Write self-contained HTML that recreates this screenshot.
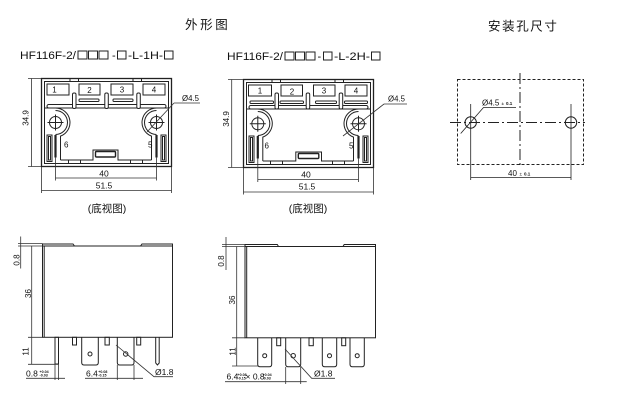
<!DOCTYPE html>
<html><head><meta charset="utf-8">
<style>
html,body{margin:0;padding:0;background:#fff;}
svg{display:block;}
text{font-family:"Liberation Sans","Noto Sans CJK SC",sans-serif;fill:#111;}
.cjk{font-family:"Liberation Sans","Noto Sans CJK SC",sans-serif;}
</style></head><body>
<svg width="636" height="412" viewBox="0 0 636 412" xmlns="http://www.w3.org/2000/svg">
<rect width="636" height="412" fill="#fff"/>

<!-- Titles -->
<text class="cjk" x="185" y="29" font-size="12.5" letter-spacing="2.6">外形图</text>
<text class="cjk" x="488" y="30.5" font-size="12.5" letter-spacing="1.6">安装孔尺寸</text>

<!-- Model labels -->
<g stroke="#222" stroke-width="1" fill="none">
  <rect x="78" y="51" width="9" height="8"/>
  <rect x="88.5" y="51" width="9" height="8"/>
  <rect x="99" y="51" width="9" height="8"/>
  <rect x="117.5" y="51" width="8.5" height="8"/>
  <rect x="164.5" y="51" width="8.5" height="8"/>

  <rect x="285" y="52" width="9" height="8"/>
  <rect x="295.5" y="52" width="9" height="8"/>
  <rect x="306" y="52" width="9" height="8"/>
  <rect x="323.5" y="52" width="8.5" height="8"/>
  <rect x="371.5" y="52" width="8.5" height="8"/>
</g>
<text x="20" y="59" font-size="11" textLength="56" lengthAdjust="spacingAndGlyphs">HF116F-2/</text>
<text x="112" y="59" font-size="11">-</text>
<text x="128" y="59" font-size="11" textLength="35" lengthAdjust="spacingAndGlyphs">-L-1H-</text>
<text x="227" y="60" font-size="11" textLength="56" lengthAdjust="spacingAndGlyphs">HF116F-2/</text>
<text x="317.5" y="60" font-size="11">-</text>
<text x="334" y="60" font-size="11" textLength="36" lengthAdjust="spacingAndGlyphs">-L-2H-</text>

<!-- ===== Bottom view LEFT ===== -->
<g transform="translate(41.5,78.5)" stroke="#222" stroke-width="1" fill="none">
  <rect x="0" y="0" width="130" height="88" stroke-width="1.3"/>
  <rect x="3" y="3" width="124" height="82"/>
  <path d="M28.5,0V3M37,0V3M91.5,0V3M100,0V3M27,81.5V85M39,81.5V85M89,81.5V85M101,81.5V85"/>
  <rect x="5.5" y="5.5" width="22" height="11"/>
  <rect x="37.5" y="5.5" width="21" height="11"/>
  <rect x="69.5" y="5.5" width="22" height="11"/>
  <rect x="101.5" y="5.5" width="22" height="11"/>
  <rect x="37.5" y="20.5" width="20" height="2.5" rx="1"/>
  <rect x="71.5" y="20.5" width="20" height="2.5" rx="1"/>
  <rect x="5.5" y="26" width="119" height="3.5" rx="1.7"/>
  <rect x="31" y="14.5" width="3.5" height="15.5" rx="1.5" fill="#fff"/>
  <rect x="63.3" y="14.5" width="3.5" height="15.5" rx="1.5" fill="#fff"/>
  <rect x="95.3" y="14.5" width="3.5" height="15.5" rx="1.5" fill="#fff"/>
  <path d="M3,29.5H14A14.5,14.5 0 0 1 19,57.6L19,81.5"/>
  <path d="M14,32A12,12 0 0 1 14,56"/>
  <path d="M127,29.5H115A14.5,14.5 0 0 0 110,57.6L110,81.5"/>
  <path d="M115,32A12,12 0 0 0 115,56"/>
  <path d="M19,81.5H51.5V71.5H76.5V81.5H110"/>
  <rect x="54" y="73" width="20" height="5.5" rx="1" stroke-width="1.4"/>
  <circle cx="14" cy="44" r="6"/>
  <path d="M6,44H22M14,36V52"/>
  <circle cx="115" cy="44" r="6"/>
  <path d="M107,44H123M115,36V52"/>
  <rect x="5.5" y="56.5" width="5" height="26.5"/>
  <rect x="7" y="58" width="2" height="23.5"/>
  <rect x="119.5" y="56.5" width="5" height="26.5"/>
  <rect x="121" y="58" width="2" height="23.5"/>
  <path d="M14,56.5V79M115,56.5V79" stroke-width="2.2"/>
</g>
<g font-size="8">
  <text x="54.5" y="92.5" text-anchor="middle">1</text>
  <text x="89.5" y="93" text-anchor="middle">2</text>
  <text x="122" y="92.5" text-anchor="middle">3</text>
  <text x="154" y="92.5" text-anchor="middle">4</text>
  <text x="64" y="147.5">6</text>
  <text x="148" y="147.5">5</text>
</g>
<g stroke="#333" stroke-width="0.8" fill="none">
  <path d="M31.5,78.5V166.5M28,78.5H41M28,166.5H41"/>
  <path d="M55.5,157V180.5M156.5,157V180.5M55.5,178H156.5"/>
  <path d="M41.5,167V193M171.5,167V193M41.5,190.5H171.5"/>
  <path d="M174,103H200M174,103L147,132"/>
</g>
<text x="28.5" y="118" font-size="8" text-anchor="middle" transform="rotate(-90 28.5 118)">34.9</text>
<text x="104" y="176.3" font-size="8.5" text-anchor="middle">40</text>
<text x="104" y="188.3" font-size="8.5" text-anchor="middle">51.5</text>
<text x="182" y="101" font-size="7.8">Ø4.5</text>
<text class="cjk" x="107" y="212" font-size="10.5" text-anchor="middle">(底视图)</text>

<!-- ===== Bottom view MIDDLE ===== -->
<g transform="translate(243.5,79.5)" stroke="#222" stroke-width="1" fill="none">
  <rect x="0" y="0" width="130" height="88" stroke-width="1.3"/>
  <rect x="3" y="3" width="124" height="82"/>
  <path d="M28.5,0V3M37,0V3M91.5,0V3M100,0V3M27,81.5V85M39,81.5V85M89,81.5V85M101,81.5V85"/>
  <rect x="5" y="5.5" width="23" height="11"/>
  <rect x="37.5" y="5.5" width="21.5" height="11"/>
  <rect x="70" y="5.5" width="21.5" height="11"/>
  <rect x="101.5" y="5.5" width="22" height="11"/>
  <rect x="6.5" y="21.5" width="23.5" height="2.5" rx="1"/>
  <rect x="36.5" y="21.5" width="23.5" height="2.5" rx="1"/>
  <rect x="72" y="21.5" width="21" height="2.5" rx="1"/>
  <rect x="101" y="21.5" width="23" height="2.5" rx="1"/>
  <rect x="5.5" y="26" width="119" height="3.5" rx="1.7"/>
  <rect x="31.5" y="13.5" width="3.5" height="16" rx="1.5" fill="#fff"/>
  <rect x="62.7" y="13.5" width="3.5" height="16" rx="1.5" fill="#fff"/>
  <rect x="95.7" y="13.5" width="3.5" height="16" rx="1.5" fill="#fff"/>
  <path d="M3,29.5H14.3A14.5,14.5 0 0 1 19.3,57.6L19.3,81.5"/>
  <path d="M14.3,32A12,12 0 0 1 14.3,56"/>
  <path d="M127,29.5H115A14.5,14.5 0 0 0 110,57.6L110,81.5"/>
  <path d="M115,32A12,12 0 0 0 115,56"/>
  <path d="M19.3,81.5H52.3V72.5H78V81.5H110"/>
  <rect x="54.8" y="74" width="20.5" height="5" rx="1" stroke-width="1.4"/>
  <circle cx="14.3" cy="44.3" r="6"/>
  <path d="M6.3,44.3H22.3M14.3,36.3V52.3"/>
  <circle cx="115" cy="44.3" r="6"/>
  <path d="M107,44.3H123M115,36.3V52.3"/>
  <rect x="5.5" y="56.5" width="5" height="26.5"/>
  <rect x="7" y="58" width="2" height="23.5"/>
  <rect x="119.5" y="56.5" width="5" height="26.5"/>
  <rect x="121" y="58" width="2" height="23.5"/>
  <path d="M14.3,56.5V79M115,56.5V79" stroke-width="2.2"/>
</g>
<g font-size="8">
  <text x="260" y="93.5" text-anchor="middle">1</text>
  <text x="292" y="94.5" text-anchor="middle">2</text>
  <text x="324" y="93.5" text-anchor="middle">3</text>
  <text x="356" y="93.5" text-anchor="middle">4</text>
  <text x="264.5" y="148.5">6</text>
  <text x="349" y="148.5">5</text>
</g>
<g stroke="#333" stroke-width="0.8" fill="none">
  <path d="M231.7,79.5V167.5M228,79.5H243M228,167.5H243"/>
  <path d="M257.8,158V182M358.5,158V182M257.8,179.5H358.5"/>
  <path d="M243.5,168V194.5M373.5,168V194.5M243.5,192H373.5"/>
  <path d="M384,104H407M384,104L343,136"/>
</g>
<text x="229" y="119" font-size="8" text-anchor="middle" transform="rotate(-90 229 119)">34.9</text>
<text x="306" y="177.5" font-size="8.5" text-anchor="middle">40</text>
<text x="307" y="189.5" font-size="8.5" text-anchor="middle">51.5</text>
<text x="388" y="101.5" font-size="7.8">Ø4.5</text>
<text class="cjk" x="308" y="212" font-size="10.5" text-anchor="middle">(底视图)</text>

<!-- ===== Mounting holes RIGHT ===== -->
<g stroke="#222" stroke-width="1" fill="none">
  <rect x="457.5" y="79.5" width="126" height="85" stroke-dasharray="3,2"/>
  <path d="M520,73V166" stroke-dasharray="11,3,2,3"/>
  <path d="M450,122.5H585" stroke-dasharray="11,3,2,3"/>
  <circle cx="470.7" cy="122.5" r="5.7"/>
  <circle cx="571" cy="122.5" r="5.7"/>
  <path d="M470.7,104V180M571,104V180" stroke-width="0.8"/>
  <path d="M460.7,133.5L483.5,107.5H516" stroke-width="0.8"/>
  <path d="M470.7,177.5H571" stroke-width="0.8"/>
</g>
<text x="482" y="105.5" font-size="8">Ø4.5</text>
<text x="501.5" y="105" font-size="4.5">±</text>
<text x="506" y="105" font-size="4.5" font-weight="bold">0.1</text>
<text x="508" y="176" font-size="8">40</text>
<text x="519.5" y="175.5" font-size="4.5">±</text>
<text x="524" y="175.5" font-size="4.5" font-weight="bold">0.1</text>

<!-- ===== Side view LEFT ===== -->
<g stroke="#222" stroke-width="1" fill="none">
  <rect x="42.5" y="246" width="130" height="91.3"/>
  <path d="M44.2,246V337.3"/>
  <path d="M42.5,246V244H73L74.5,246M140.5,246L142,244H172.5V246"/>
  <rect x="55" y="337.3" width="3.5" height="26.7"/>
  <rect x="72.5" y="337.3" width="4" height="7.7"/>
  <path d="M81.7,337.3V362.5Q81.7,365 84.2,365H95.8Q98.3,365 98.3,362.5V337.3"/>
  <circle cx="90" cy="354" r="2"/>
  <rect x="105" y="337.3" width="4.3" height="7.7"/>
  <path d="M117.3,337.3V362.5Q117.3,365 119.8,365H131.5Q134,365 134,362.5V337.3"/>
  <circle cx="125.7" cy="354" r="2.2"/>
  <rect x="136.7" y="337.3" width="4" height="7.7"/>
  <path d="M155.7,337.3V363L157.4,365L159.2,363V337.3"/>
</g>
<g stroke="#333" stroke-width="0.8" fill="none">
  <path d="M18,243.5H42.5M18,246H42.5M20.7,236.5V268.5"/>
  <path d="M31.7,246V364.3M28,337.3H42.5M28,364.3H58"/>
  <path d="M55,364V380M58.5,364V380M117.3,365V380M134,365V380"/>
  <path d="M26,378.3H65M85,378.3H143"/>
  <path d="M116,345L154,376.7H173"/>
</g>
<text x="19.5" y="260" font-size="8" text-anchor="middle" transform="rotate(-90 19.5 260)">0.8</text>
<text x="31" y="293.5" font-size="8" text-anchor="middle" transform="rotate(-90 31 293.5)">36</text>
<text x="28.5" y="351.5" font-size="8" text-anchor="middle" transform="rotate(-90 28.5 351.5)">11</text>
<text x="26" y="376.5" font-size="8.5">0.8</text>
<text x="39.5" y="372.8" font-size="3.6" font-weight="bold">+0.04</text>
<text x="39.5" y="376.6" font-size="3.6" font-weight="bold">-0.03</text>
<text x="86" y="376.5" font-size="8.5">6.4</text>
<text x="98.3" y="372.8" font-size="3.6" font-weight="bold">+0.08</text>
<text x="98.3" y="376.6" font-size="3.6" font-weight="bold">-0.15</text>
<text x="155" y="375" font-size="8.5">Ø1.8</text>

<!-- ===== Side view MIDDLE ===== -->
<g stroke="#222" stroke-width="1" fill="none">
  <rect x="245" y="246.5" width="130.5" height="91.3"/>
  <path d="M246.7,246.5V337.8"/>
  <path d="M245,246.5V244.5H277.3L278.5,246.5M343,246.5L344.2,244.5H375.5V246.5"/>
  <path d="M257.7,337.8V364.2Q257.7,366.7 260.2,366.7H269.2Q271.7,366.7 271.7,364.2V337.8"/>
  <circle cx="264.7" cy="355.7" r="2"/>
  <rect x="276.7" y="337.8" width="4" height="7.9"/>
  <path d="M285.7,337.8V364.2Q285.7,366.7 288.2,366.7H298.2Q300.7,366.7 300.7,364.2V337.8"/>
  <circle cx="293.2" cy="355.7" r="2.2"/>
  <rect x="309" y="337.8" width="4.3" height="7.9"/>
  <path d="M322.3,337.8V364.2Q322.3,366.7 324.8,366.7H334.2Q336.7,366.7 336.7,364.2V337.8"/>
  <circle cx="329.5" cy="355.7" r="2"/>
  <rect x="341.7" y="337.8" width="4" height="7.9"/>
  <path d="M350,337.8V364.2Q350,366.7 352.5,366.7H361.8Q364.3,366.7 364.3,364.2V337.8"/>
  <circle cx="357.2" cy="355.7" r="2"/>
</g>
<g stroke="#333" stroke-width="0.8" fill="none">
  <path d="M222,244.5H245M222,246.5H245M226,237V270"/>
  <path d="M236.7,246.5V366M232,337.8H245M232,366H258"/>
  <path d="M285.7,367V384M300.7,367V384"/>
  <path d="M225,381.7H306.7"/>
  <path d="M285,349L311.7,378.3H335"/>
</g>
<text x="224" y="261" font-size="8" text-anchor="middle" transform="rotate(-90 224 261)">0.8</text>
<text x="235" y="300" font-size="8" text-anchor="middle" transform="rotate(-90 235 300)">36</text>
<text x="235.5" y="351.5" font-size="8" text-anchor="middle" transform="rotate(-90 235.5 351.5)">11</text>
<text x="226.5" y="379.5" font-size="8.5">6.4</text>
<text x="237.5" y="375.8" font-size="3.6" font-weight="bold">+0.08</text>
<text x="237.5" y="379.6" font-size="3.6" font-weight="bold">-0.15</text>
<text x="245.5" y="379.5" font-size="8.5">× 0.8</text>
<text x="262.5" y="375.8" font-size="3.6" font-weight="bold">+0.04</text>
<text x="262.5" y="379.6" font-size="3.6" font-weight="bold">-0.03</text>
<text x="314" y="376.5" font-size="8.5">Ø1.8</text>
</svg>
</body></html>
